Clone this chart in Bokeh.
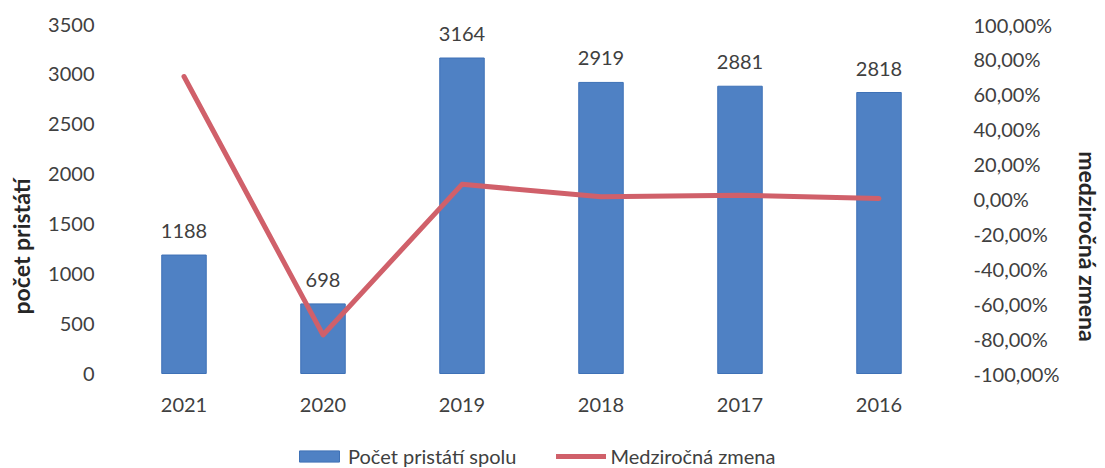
from bokeh.plotting import figure
from bokeh.models import (ColumnDataSource, Range1d, FactorRange, LinearAxis, FixedTicker,
                          CustomJSTickFormatter, Legend, LegendItem, LabelSet)
from bokeh.core.properties import value
from bokeh.embed import file_html
from bokeh.resources import INLINE

years = ["2021", "2020", "2019", "2018", "2017", "2016"]
landings = [1188, 698, 3164, 2919, 2881, 2818]
yoy_pct = [70.2, -77.9, 8.4, 1.3, 2.2, 0.3]
left_ticks = [0, 500, 1000, 1500, 2000, 2500, 3000, 3500]
right_ticks = [-100, -80, -60, -40, -20, 0, 20, 40, 60, 80, 100]
left_max = 3500
right_min, right_max = -100, 100

FONT = "Lato"
TXT = "#404040"
BAR = "#4f81c4"
BAR_LINE = "#3e71b6"
LINE = "#d0606a"

# layout (pixels)
W, H, TOP = 1105, 468, 24
LEFT, RIGHT = 114, 154
PLOT_H = 349              # pixels between the 0 and 3500 lines
EXTRA = H - TOP - PLOT_H  # room under the zero line for year labels + legend
below = left_max * EXTRA / PLOT_H
below_r = (right_max - right_min) * EXTRA / PLOT_H

src = ColumnDataSource(dict(x=years, y=landings, pct=yoy_pct, base=[0] * len(years),
                            lab=[str(v) for v in landings]))

p = figure(x_range=FactorRange(*years, range_padding=0), y_range=Range1d(-below, left_max),
           width=W, height=H, output_backend="svg", toolbar_location=None,
           min_border_left=LEFT, min_border_right=RIGHT, min_border_top=TOP, min_border_bottom=0)
p.outline_line_color = None
p.xgrid.grid_line_color = None
p.ygrid.grid_line_color = None
p.extra_y_ranges = {"pct": Range1d(right_min - below_r, right_max)}
p.xaxis.visible = False

bars = p.vbar(x="x", top="y", bottom="base", width=0.32, source=src, fill_color=BAR,
              line_color=BAR_LINE, line_width=1)
ln = p.line(x="x", y="pct", source=src, y_range_name="pct", line_color=LINE, line_width=5,
            line_join="round", line_cap="round")

labels = LabelSet(x="x", y="y", text="lab", source=src, text_align="center",
                  text_baseline="alphabetic", y_offset=17, text_font=value(FONT),
                  text_font_size="20px", text_color=TXT)
p.add_layout(labels)

year_labels = LabelSet(x="x", y="base", text="x", source=src, text_align="center",
                       text_baseline="top", y_offset=-24, text_font=value(FONT),
                       text_font_size="20px", text_color=TXT)
p.add_layout(year_labels)

ya = p.yaxis[0]
ya.ticker = FixedTicker(ticks=left_ticks)
ya.axis_label = "počet pristátí"

ra = LinearAxis(y_range_name="pct", ticker=FixedTicker(ticks=right_ticks),
                formatter=CustomJSTickFormatter(code="return tick.toFixed(2).replace('.', ',') + '%';"),
                axis_label="medziročná zmena")
p.add_layout(ra, "right")

for ax in [ya, ra]:
    ax.axis_line_color = None
    ax.major_tick_line_color = None
    ax.minor_tick_line_color = None
    ax.major_tick_out = 0
    ax.major_tick_in = 0
    ax.minor_tick_out = 0
    ax.major_label_text_font = FONT
    ax.major_label_text_font_size = "20px"
    ax.major_label_text_color = TXT
    ax.axis_label_text_font = FONT
    ax.axis_label_text_font_size = "23px"
    ax.axis_label_text_font_style = "bold"
    ax.axis_label_text_color = "#262626"

ya.major_label_standoff = 20
ya.axis_label_standoff = 10
ra.major_label_standoff = 25
ra.axis_label_standoff = 12

legend = Legend(items=[LegendItem(label="Počet pristátí spolu", renderers=[bars]),
                       LegendItem(label="Medziročná zmena", renderers=[ln])],
                orientation="horizontal", location=(180, 0),
                glyph_width=50, glyph_height=14, label_standoff=4, spacing=40,
                padding=0, margin=0, border_line_color=None, background_fill_alpha=0,
                label_text_font=FONT, label_text_font_size="20px", label_text_color=TXT)
p.add_layout(legend, "center")

open("out.html", "w").write(file_html(p, INLINE))
